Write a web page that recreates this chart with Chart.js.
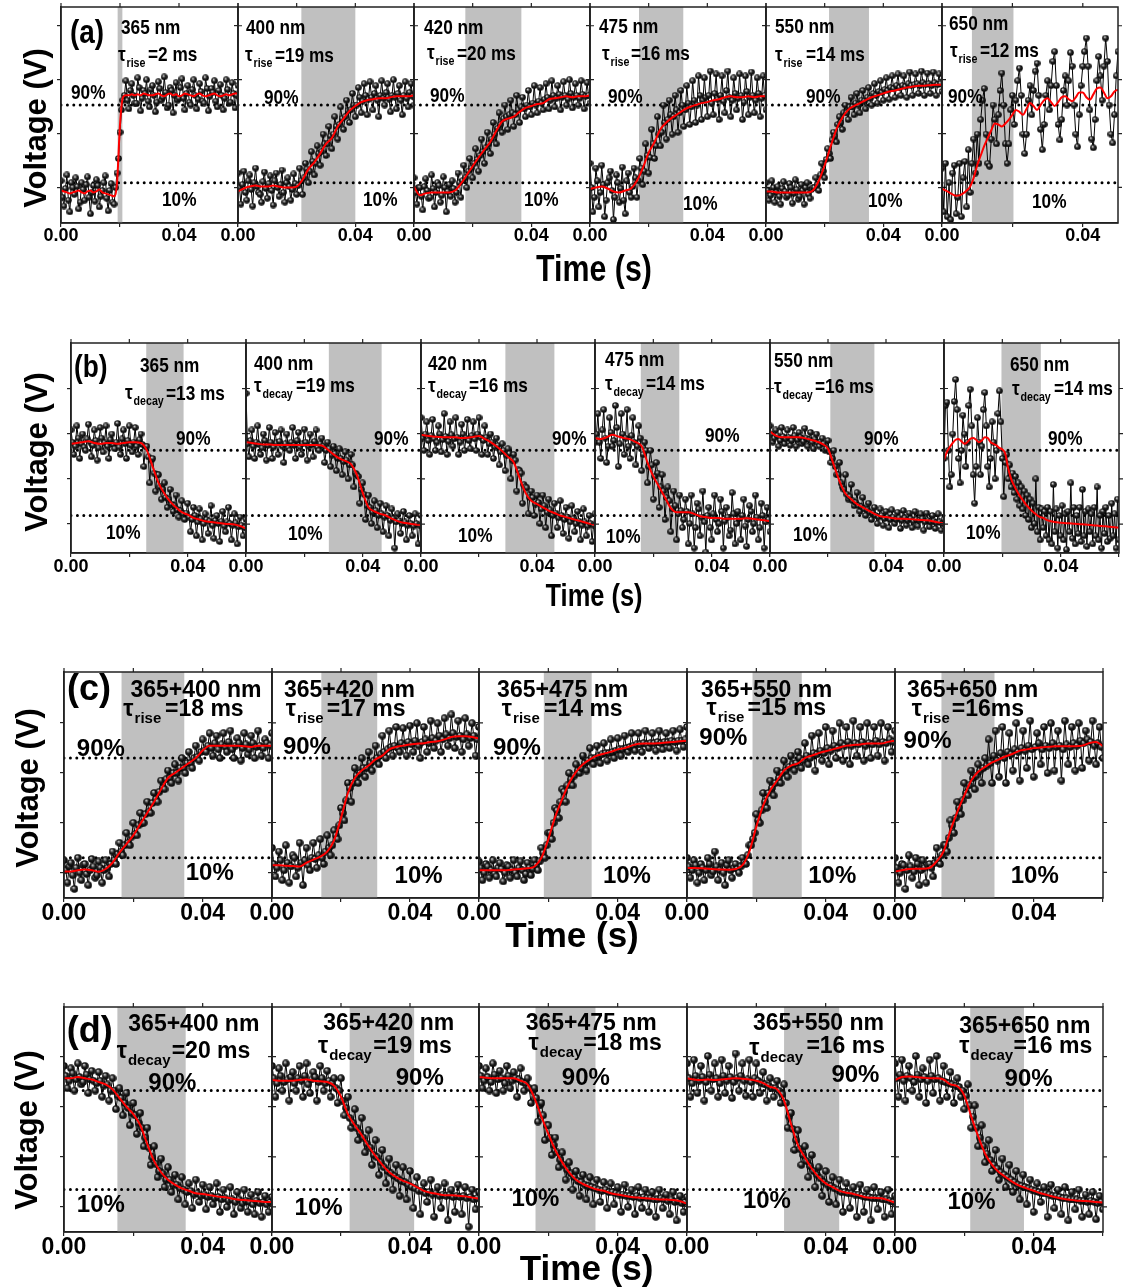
<!DOCTYPE html>
<html><head><meta charset="utf-8">
<script src="https://cdn.jsdelivr.net/npm/chart.js@4.4.1/dist/chart.umd.min.js"></script>
<style>
html,body{margin:0;padding:0;background:#fff;}
#root{position:relative;width:1124px;height:1288px;overflow:hidden;background:#fff;}
canvas{position:absolute;}
.t{position:absolute;white-space:nowrap;color:#000;font-weight:bold;line-height:1;}
</style></head><body><div id="root"></div>
<script>
// ---------------- time bases ----------------
const tFine=[0,.001,.002,.003,.004,.005,.006,.007,.008,.009,.01,.011,.012,.013,.014,.015,.016,.017,.018,.019,.02,.021,.022,.023,.024,.025,.026,.027,.028,.029,.03,.031,.032,.033,.034,.035,.036,.037,.038,.039,.04,.041,.042,.043,.044,.045,.046,.047,.048,.049,.05,.051,.052,.053,.054,.055,.056,.057,.058,.059,.06];
const tMid=[.0005,.0015,.0025,.0035,.0045,.0055,.0065,.0075,.0085,.0095,.0105,.0115,.0125,.0135,.0145,.0155,.0165,.0175,.0185,.0195,.0205,.0215,.0225,.0235,.0245,.0255,.0265,.0275,.0285,.0295,.0305,.0315,.0325,.0335,.0345,.0355,.0365,.0375,.0385,.0395,.0405,.0415,.0425,.0435,.0445,.0455,.0465,.0475,.0485,.0495,.0505,.0515,.0525,.0535,.0545,.0555,.0565,.0575,.0585,.0595];
const tRed=[0,.002,.004,.006,.008,.01,.012,.014,.016,.018,.02,.022,.024,.026,.028,.03,.032,.034,.036,.038,.04,.042,.044,.046,.048,.05,.052,.054,.056,.058,.06];
const tHalf=[0,.0005,.001,.0015,.002,.0025,.003,.0035,.004,.0045,.005,.0055,.006,.0065,.007,.0075,.008,.0085,.009,.0095,.01,.0105,.011,.0115,.012,.0125,.013,.0135,.014,.0145,.015,.0155,.016,.0165,.017,.0175,.018,.0185,.019,.0195,.02,.0205,.021,.0215,.022,.0225,.023,.0235,.024,.0245,.025,.0255,.026,.0265,.027,.0275,.028,.0285,.029,.0295,.03,.0305,.031,.0315,.032,.0325,.033,.0335,.034,.0345,.035,.0355,.036,.0365,.037,.0375,.038,.0385,.039,.0395,.04,.0405,.041,.0415,.042,.0425,.043,.0435,.044,.0445,.045,.0455,.046,.0465,.047,.0475,.048,.0485,.049,.0495,.05,.0505,.051,.0515,.052,.0525,.053,.0535,.054,.0545,.055,.0555,.056,.0565,.057,.0575,.058,.0585,.059,.0595,.06];
const xMaxA=[0.06,0.06,0.06,0.06,0.06,0.05];
const xTickLabels=['0.00','0.04'];

// ---------------- row (a): rise, single wavelength ----------------
const a1Black=[0.12,-0.14,0.18,-0.2,0.05,0.15,-0.17,0.1,-0.08,0.16,-0.22,0.07,0.13,-0.15,0.02,0.17,-0.19,0.09,-0.12,0.2,0.62,0.95,1.15,0.86,1.12,0.92,1.18,0.84,1.05,1.16,0.88,1.1,0.83,1.14,0.95,1.19,0.87,1.08,0.82,1.13,0.97,1.17,0.85,1.1,0.9,1.16,0.86,1.12,0.94,1.18,0.84,1.07,1.15,0.88,1.11,0.85,1.16,0.92,1.13,0.87,1.1];
const a1Mid=[-0.05,0.04,-0.08,0.1,-0.02,0.06,-0.1,0.03,0.08,-0.05,0.0,-0.09,0.07,-0.04,0.1,-0.06,0.02,-0.1,0.05,0.35,0.85,1.0,0.95,1.05,1.0,0.92,1.08,0.97,1.02,0.94,1.06,1.0,0.93,1.07,0.98,1.03,0.9,1.05,1.0,0.95,1.08,0.97,1.02,0.93,1.06,1.0,0.96,1.04,0.92,1.07,0.99,1.03,0.94,1.05,1.0,0.97,1.06,0.93,1.02,1.0];
const a1Red=[0.02,0.01,0.0,-0.01,0.0,0.01,0.02,0.0,-0.01,0.01,0.02,0.0,0.01,0.03,0.0,-0.01,-0.02,-0.03,-0.04,0.1,0.7,0.98,1.0,1.0,1.01,1.0,1.01,1.0,1.02,1.01,1.0,1.0,1.01,1.02,1.0,0.99,1.01,1.02,1.0,1.01,0.99,1.0,1.02,1.01,1.0,0.99,1.01,1.02,1.0,0.99,1.0,1.01,1.02,1.0,0.99,1.0,1.01,1.0,1.01,1.02,1.02];
const a2Black=[0.2,-0.12,0.22,-0.08,0.18,-0.14,0.25,0.0,-0.1,0.21,-0.06,0.17,-0.13,0.2,-0.04,0.23,-0.1,0.15,-0.08,0.19,-0.02,0.25,-0.02,0.3,0.1,0.42,0.18,0.48,0.28,0.6,0.38,0.68,0.45,0.78,0.55,0.88,0.65,0.95,0.72,1.02,0.78,1.08,0.82,1.12,0.8,1.14,0.85,1.1,0.78,1.15,0.9,1.12,0.83,1.16,0.86,1.1,0.8,1.14,0.88,1.12,0.9];
const a2Mid=[0.05,0.08,0.0,0.12,0.03,0.1,0.06,-0.02,0.11,0.04,0.09,0.02,0.12,0.05,0.08,0.0,0.1,0.06,0.03,0.09,0.07,0.12,0.15,0.24,0.22,0.32,0.3,0.4,0.42,0.5,0.5,0.58,0.6,0.68,0.7,0.76,0.78,0.84,0.85,0.9,0.9,0.98,0.94,1.0,0.96,0.98,1.02,0.95,1.0,0.97,1.03,0.96,1.0,0.98,1.02,0.95,1.0,0.97,1.03,0.99];
const a2Red=[0.01,0.04,0.06,0.07,0.06,0.06,0.07,0.06,0.05,0.05,0.06,0.13,0.24,0.31,0.40,0.50,0.56,0.68,0.76,0.84,0.89,0.93,0.95,0.96,0.97,0.97,0.98,0.99,0.99,0.99,1.0];
const a3Black=[0.15,-0.12,0.05,-0.18,0.14,-0.06,0.18,-0.15,0.1,-0.1,0.16,-0.2,0.08,0.12,-0.1,0.2,-0.05,0.28,0.05,0.35,0.15,0.45,0.22,0.55,0.3,0.62,0.4,0.72,0.5,0.82,0.62,0.9,0.65,0.95,0.68,1.0,0.72,0.98,0.78,1.05,0.8,1.1,0.82,1.08,0.85,1.12,0.86,1.15,0.88,1.1,0.85,1.14,0.9,1.16,0.87,1.12,0.9,1.15,0.86,1.13,0.92];
const a3Mid=[0.0,0.05,-0.04,0.06,0.02,-0.05,0.04,0.0,0.07,-0.03,0.05,0.01,-0.04,0.04,0.0,0.1,0.12,0.15,0.22,0.25,0.3,0.34,0.38,0.42,0.46,0.5,0.55,0.6,0.66,0.7,0.76,0.78,0.8,0.82,0.8,0.85,0.88,0.86,0.9,0.88,0.92,0.9,0.94,0.92,0.96,0.98,0.95,1.0,0.97,1.01,0.98,1.0,0.96,1.02,0.98,1.0,0.97,1.01,0.99,1.0];
const a3Red=[0.06,-0.03,-0.01,0.0,0.0,0.0,0.0,0.02,0.09,0.18,0.27,0.36,0.44,0.52,0.63,0.73,0.76,0.78,0.83,0.87,0.89,0.91,0.92,0.96,0.97,0.98,0.99,0.98,0.99,0.99,1.0];
const a4Black=[0.3,-0.2,0.25,-0.15,0.28,-0.25,0.1,0.22,-0.28,0.18,-0.1,0.26,-0.22,0.2,-0.05,0.25,-0.05,0.35,0.08,0.5,0.2,0.65,0.35,0.78,0.48,0.9,0.55,0.95,0.6,1.0,0.62,1.05,0.68,1.1,0.7,1.15,0.72,1.2,0.75,1.18,0.78,1.25,0.8,1.22,0.75,1.2,0.82,1.25,0.78,1.18,0.85,1.22,0.75,1.2,0.8,1.24,0.82,1.18,0.78,1.2,0.85];
const a4Mid=[0.05,-0.05,0.12,0.0,0.08,-0.08,0.15,0.02,-0.05,0.1,0.04,-0.08,0.12,0.0,0.06,0.15,0.12,0.25,0.22,0.38,0.36,0.5,0.48,0.6,0.62,0.72,0.75,0.8,0.78,0.85,0.82,0.9,0.85,0.92,0.88,0.95,0.9,1.0,0.95,0.98,1.0,0.92,1.02,0.96,1.0,0.94,1.05,0.98,0.95,1.02,0.97,1.0,0.93,1.04,0.98,1.0,0.95,1.02,0.97,1.0];
const a4Red=[0.035,0.05,0.06,0.04,0.01,0.0,0.02,0.04,0.12,0.25,0.41,0.52,0.65,0.72,0.77,0.81,0.85,0.88,0.9,0.92,0.93,0.95,0.96,0.98,0.99,0.98,0.98,0.99,0.98,0.99,0.99];
const a5Black=[0.1,-0.08,0.12,-0.1,0.06,-0.12,0.11,-0.05,0.09,-0.11,0.13,-0.07,0.08,-0.12,0.1,-0.06,0.05,0.15,0.02,0.3,0.15,0.45,0.35,0.62,0.52,0.78,0.65,0.9,0.75,0.98,0.8,1.02,0.82,1.05,0.86,1.08,0.9,1.12,0.92,1.15,0.95,1.18,0.96,1.2,0.98,1.22,1.0,1.2,0.98,1.24,1.0,1.22,1.02,1.25,1.0,1.23,1.02,1.24,1.0,1.22,1.04];
const a5Mid=[0.02,-0.03,0.05,0.0,-0.04,0.04,0.01,-0.03,0.05,-0.01,0.03,-0.04,0.02,0.05,-0.02,0.03,0.05,0.08,0.18,0.22,0.34,0.4,0.54,0.58,0.7,0.72,0.82,0.82,0.88,0.88,0.92,0.9,0.95,0.94,0.98,0.97,1.02,1.0,1.04,1.03,1.06,1.05,1.08,1.07,1.1,1.08,1.1,1.09,1.12,1.1,1.11,1.12,1.1,1.13,1.11,1.12,1.1,1.13,1.11,1.12];
const a5Red=[0.01,0.01,0.0,0.0,0.0,0.0,0.0,0.0,0.02,0.12,0.28,0.47,0.65,0.77,0.85,0.89,0.92,0.95,0.98,1.0,1.02,1.04,1.05,1.065,1.08,1.09,1.1,1.1,1.105,1.11,1.11];
const a6Black=[0.25,-0.2,0.3,-0.25,0.1,-0.28,0.2,0.28,-0.22,-0.05,0.3,-0.25,0.15,0.32,-0.15,0.44,0.0,0.3,0.55,0.2,0.6,0.3,0.75,0.95,1.07,0.6,0.3,0.27,0.55,0.9,0.75,0.5,0.8,1.05,1.23,0.9,0.5,0.3,0.5,0.85,1.0,0.7,0.95,1.15,1.28,1.0,0.6,0.4,0.6,0.95,1.1,0.8,1.05,1.25,1.33,1.0,0.65,0.44,0.7,1.0,1.15,0.85,1.1,1.35,1.45,1.1,0.7,0.54,0.75,1.05,1.2,0.9,1.15,1.44,1.3,0.9,0.6,0.47,0.8,1.1,1.3,1.45,1.59,1.3,0.85,0.55,0.46,0.75,1.15,1.4,1.2,0.95,1.3,1.59,1.35,0.9,0.6,0.51,0.8,1.2,1.45];
const a6Red=[0.04,0.02,0.0,-0.02,-0.034,-0.03,-0.01,0.02,0.06,0.15,0.28,0.38,0.48,0.56,0.64,0.71,0.70,0.68,0.71,0.75,0.80,0.85,0.83,0.80,0.86,0.92,0.89,0.85,0.90,0.95,0.97,0.93,0.89,0.93,0.98,0.99,0.96,0.94,0.98,1.03,1.03,0.98,0.955,1.01,1.07,1.08,1.03,0.97,0.99,1.04,1.06];
const shadeA=[[0.0192,0.0208],[0.0216,0.040],[0.0175,0.0366],[0.0167,0.0318],[0.0215,0.0351],[0.0085,0.0203]];
const wlA=['365 nm','400 nm','420 nm','475 nm','550 nm','650 nm'];
const eqA=['=2 ms','=19 ms','=20 ms','=16 ms','=14 ms','=12 ms'];

// ---------------- row (b): decay, single wavelength ----------------
const b1Black=[1.15,0.85,1.2,0.8,1.1,0.9,1.22,0.82,1.15,0.78,1.18,0.88,1.2,0.8,1.1,0.92,1.23,0.85,1.15,0.8,1.2,0.88,1.18,0.85,1.1,0.7,0.95,0.5,0.8,0.4,0.6,0.3,0.5,0.2,0.42,0.15,0.35,0.08,0.28,0.05,0.25,-0.1,0.2,-0.15,0.18,-0.2,0.12,-0.12,0.22,-0.18,0.1,-0.22,0.15,-0.1,0.2,-0.2,0.12,-0.25,0.08,-0.15,0.05];
const b1Mid=[1.0,0.95,1.05,0.98,0.94,1.04,1.0,0.96,1.02,0.93,1.05,0.99,0.95,1.03,0.97,1.0,0.94,1.04,0.98,1.02,0.96,1.0,0.95,1.03,0.97,0.95,0.82,0.78,0.62,0.6,0.45,0.42,0.32,0.3,0.24,0.22,0.17,0.16,0.12,0.13,0.08,0.05,0.1,0.02,0.06,0.0,0.05,0.03,-0.02,0.04,0.0,0.03,-0.03,0.02,0.0,-0.02,0.01,-0.04,-0.02,-0.05];
const b1Red=[0.98,0.99,1.0,1.01,0.99,0.98,0.99,0.99,0.98,0.99,1.0,1.0,0.99,0.9,0.7,0.5,0.37,0.27,0.2,0.14,0.11,0.07,0.05,0.03,0.02,0.01,0.0,-0.005,-0.01,-0.03,-0.06];
const b2Black=[1.6,0.82,1.15,0.8,1.2,0.85,1.1,0.78,1.18,0.8,1.12,0.85,1.15,0.75,1.1,0.9,1.18,0.8,1.12,0.85,1.16,0.78,1.1,0.82,1.15,0.9,1.05,0.75,1.0,0.7,0.95,0.65,0.92,0.6,0.88,0.55,0.85,0.45,0.6,0.25,0.5,0.05,0.35,0.0,0.28,-0.05,0.25,-0.1,0.22,-0.15,0.18,-0.3,0.12,-0.12,0.15,-0.2,0.1,-0.15,0.12,-0.25,0.1];
const b2Mid=[0.98,1.02,0.95,1.0,0.97,0.93,1.02,0.96,1.0,0.94,0.99,1.01,0.95,0.98,0.93,1.0,0.96,1.02,0.94,0.98,1.0,0.95,0.97,1.01,0.94,0.98,0.95,0.9,0.92,0.84,0.86,0.8,0.8,0.76,0.78,0.72,0.72,0.62,0.58,0.42,0.36,0.22,0.2,0.14,0.16,0.1,0.12,0.08,0.1,0.04,0.06,0.02,0.04,0.0,0.02,-0.02,0.0,-0.03,0.0,-0.02];
const b2Red=[1.0,0.99,0.98,0.97,0.97,0.965,0.965,0.965,0.965,0.965,0.965,0.965,0.965,0.96,0.91,0.85,0.8,0.77,0.73,0.6,0.38,0.2,0.15,0.12,0.1,0.06,0.03,0.01,0.0,-0.01,-0.015];
const b3Black=[1.3,0.9,1.25,0.85,1.28,0.9,1.2,0.88,1.35,0.85,1.25,0.95,1.3,0.85,1.22,0.9,1.28,0.92,1.25,0.9,1.3,0.85,1.2,0.85,1.1,0.8,1.05,0.72,0.98,0.65,0.92,0.55,0.85,0.4,0.65,0.25,0.45,0.12,0.4,0.1,0.35,0.0,0.35,-0.05,0.3,-0.15,0.25,-0.05,0.28,-0.12,0.2,-0.18,0.22,-0.1,0.15,-0.2,0.18,-0.15,0.1,-0.22,0.12];
const b3Mid=[1.05,1.1,1.02,1.08,1.04,1.0,1.1,1.03,1.07,1.01,1.09,1.04,1.06,1.0,1.1,1.05,1.02,1.08,1.04,1.1,1.06,1.02,1.06,0.98,1.0,0.94,0.96,0.88,0.9,0.84,0.86,0.78,0.78,0.66,0.62,0.48,0.44,0.32,0.32,0.24,0.26,0.18,0.22,0.14,0.17,0.1,0.13,0.07,0.1,0.05,0.08,0.02,0.06,0.0,0.03,-0.02,0.02,-0.03,0.0,-0.02];
const b3Red=[1.09,1.08,1.07,1.065,1.06,1.06,1.06,1.05,1.055,1.065,1.075,1.04,1.0,0.95,0.89,0.82,0.75,0.56,0.38,0.28,0.24,0.2,0.16,0.13,0.1,0.08,0.06,0.04,0.02,0.0,-0.015];
const b4Black=[1.0,1.35,0.8,1.4,0.75,1.3,0.95,1.45,0.7,1.35,0.85,1.4,0.8,1.3,0.72,1.2,0.65,1.0,0.5,0.9,0.3,0.75,0.2,0.6,0.05,0.45,-0.1,0.4,-0.2,0.35,-0.05,0.3,-0.25,0.35,-0.3,0.25,-0.15,0.4,-0.35,0.2,-0.2,0.35,-0.1,0.3,-0.3,0.2,-0.15,0.38,-0.25,0.15,-0.2,0.3,-0.28,0.22,-0.1,0.35,-0.2,0.25,-0.3,0.2,-0.1];
const b4Mid=[1.1,1.0,1.15,1.05,0.95,1.12,1.02,1.18,0.98,1.1,1.05,0.95,1.08,1.0,0.95,1.05,0.85,0.9,0.7,0.72,0.58,0.62,0.45,0.4,0.32,0.28,0.18,0.22,0.12,0.16,0.05,0.15,0.0,0.12,-0.05,0.18,0.08,0.02,0.1,-0.05,0.12,0.05,0.0,0.15,0.03,0.08,-0.08,0.12,0.0,0.06,0.1,-0.03,0.05,0.15,0.0,0.08,-0.05,0.1,0.02,0.05];
const b4Red=[1.05,1.04,1.06,1.09,1.07,1.05,1.035,1.0,0.95,0.75,0.58,0.45,0.32,0.19,0.14,0.14,0.14,0.12,0.09,0.08,0.07,0.07,0.06,0.06,0.06,0.06,0.065,0.06,0.05,0.04,0.03];
const b5Black=[1.2,1.0,1.15,0.95,1.18,0.98,1.15,0.96,1.18,0.95,1.12,0.98,1.17,0.95,1.12,0.92,1.1,0.95,1.05,0.9,1.02,0.75,0.9,0.6,0.75,0.45,0.6,0.3,0.48,0.22,0.38,0.15,0.32,0.1,0.25,0.05,0.2,0.0,0.18,-0.02,0.15,-0.05,0.17,0.0,0.14,-0.06,0.16,-0.02,0.13,-0.05,0.15,-0.03,0.12,-0.08,0.13,-0.04,0.1,-0.06,0.12,-0.08,0.05];
const b5Mid=[1.1,1.05,1.08,1.02,1.07,1.04,1.06,1.02,1.08,1.03,1.06,1.01,1.05,1.03,1.0,1.04,0.99,1.01,0.98,0.92,0.88,0.8,0.7,0.6,0.5,0.42,0.36,0.33,0.28,0.26,0.22,0.21,0.18,0.17,0.14,0.13,0.1,0.08,0.1,0.06,0.08,0.05,0.08,0.05,0.07,0.04,0.07,0.04,0.06,0.03,0.05,0.04,0.06,0.02,0.04,0.02,0.03,0.01,0.02,0.0];
const b5Red=[1.13,1.08,1.06,1.06,1.06,1.06,1.05,1.03,1.01,0.98,0.92,0.72,0.52,0.37,0.3,0.24,0.2,0.16,0.12,0.09,0.08,0.07,0.06,0.06,0.055,0.05,0.045,0.04,0.03,0.015,0.0];
const b6Black=[0.8,1.45,1.49,0.9,0.45,0.6,1.1,1.5,1.77,1.4,0.8,0.5,0.9,1.33,1.1,0.7,1.0,1.45,1.65,1.2,0.6,0.25,0.7,1.3,1.0,0.6,0.95,1.4,1.61,1.2,0.7,0.45,0.8,1.25,1.0,0.55,0.9,1.35,1.63,1.25,0.8,0.33,0.75,0.85,0.55,0.72,0.45,0.62,0.38,0.58,0.3,0.5,0.22,0.45,0.18,0.4,0.1,0.35,0.05,0.3,-0.05,0.25,0.0,0.55,-0.1,0.2,-0.2,0.18,-0.05,0.15,-0.15,0.2,-0.2,0.15,-0.25,0.48,-0.1,0.18,-0.3,0.1,-0.15,0.22,-0.2,0.12,-0.32,0.15,-0.1,0.5,-0.18,0.2,-0.25,0.1,-0.12,0.2,-0.22,0.42,-0.15,0.15,-0.28,0.18,-0.1,0.12,-0.25,0.2,-0.15,0.45,-0.2,0.1,-0.3,0.15,-0.12,0.2,-0.22,0.1,-0.18,0.25,-0.15,0.12,-0.3,0.3,-0.2];
const b6Red=[0.78,0.88,0.94,0.99,1.03,1.04,1.01,0.98,1.0,1.04,1.05,1.03,1.0,1.02,1.06,1.05,1.0,0.98,0.96,0.93,0.91,0.86,0.68,0.55,0.47,0.40,0.34,0.29,0.24,0.2,0.16,0.13,0.10,0.08,0.07,0.05,0.035,0.027,0.02,0.015,0.01,0.007,0.005,0.003,0.0,-0.003,-0.005,-0.008,-0.01,-0.013,-0.016,-0.02,-0.023,-0.026,-0.03,-0.033,-0.036,-0.04,-0.043,-0.047,-0.05];
const shadeB=[[0.0258,0.0386],[0.0284,0.0465],[0.0291,0.046],[0.0157,0.0289],[0.0208,0.036],[0.0197,0.0332]];
const wlB=['365 nm','400 nm','420 nm','475 nm','550 nm','650 nm'];
const eqB=['=13 ms','=19 ms','=16 ms','=14 ms','=16 ms','=14 ms'];

// ---------------- row (c): rise, dual wavelength ----------------
const c1Black=[0.08,-0.1,0.06,-0.15,0.1,-0.08,0.05,-0.12,0.09,-0.06,0.07,-0.1,0.08,-0.05,0.15,0.05,0.22,0.12,0.3,0.2,0.38,0.28,0.46,0.38,0.55,0.46,0.62,0.55,0.72,0.65,0.8,0.7,0.85,0.72,0.9,0.78,0.95,0.82,1.0,0.88,1.05,0.95,1.1,0.92,1.08,0.9,1.1,0.95,1.12,0.9,1.06,0.88,1.1,0.93,1.08,0.9,1.12,0.92,1.05,0.9,1.1];
const c1Mid=[0.0,0.03,-0.04,0.02,-0.02,0.04,-0.03,0.0,0.03,-0.04,0.02,0.0,0.02,0.05,0.08,0.13,0.15,0.2,0.22,0.27,0.29,0.36,0.38,0.45,0.47,0.54,0.57,0.63,0.66,0.73,0.74,0.78,0.78,0.82,0.82,0.86,0.86,0.9,0.91,0.95,0.96,1.0,0.98,1.02,0.97,1.01,0.99,1.03,0.97,1.0,1.02,0.98,1.01,0.97,1.02,0.99,1.0,0.98,1.02,1.0];
const c1Red=[-0.01,-0.01,0.0,0.005,0.0,-0.012,0.01,0.06,0.14,0.21,0.28,0.37,0.46,0.55,0.65,0.74,0.78,0.82,0.86,0.9,0.96,1.0,1.0,1.0,1.0,1.0,0.995,0.99,1.0,1.0,1.0];
const c2Black=[0.18,-0.05,0.15,-0.08,0.2,-0.1,0.12,-0.05,0.22,-0.12,0.18,0.0,0.22,0.02,0.25,0.05,0.28,0.12,0.32,0.25,0.5,0.4,0.7,0.55,0.82,0.7,0.9,0.75,0.95,0.8,1.0,0.85,1.08,0.9,1.12,0.92,1.15,0.95,1.14,0.92,1.16,0.95,1.18,0.9,1.15,0.95,1.2,0.98,1.18,0.95,1.22,1.0,1.25,0.98,1.2,0.95,1.22,1.0,1.18,0.92,1.15];
const c2Mid=[0.05,0.02,0.08,0.0,0.06,0.03,0.1,0.02,0.06,0.08,0.04,0.1,0.09,0.12,0.1,0.15,0.18,0.2,0.28,0.36,0.46,0.56,0.66,0.7,0.76,0.78,0.82,0.82,0.86,0.88,0.9,0.93,0.95,0.97,0.99,1.0,0.98,1.02,1.0,1.03,1.01,1.04,1.0,1.03,1.05,1.02,1.06,1.04,1.08,1.05,1.09,1.06,1.1,1.07,1.08,1.05,1.09,1.06,1.08,1.05];
const c2Red=[0.04,0.04,0.036,0.033,0.03,0.06,0.085,0.11,0.15,0.24,0.42,0.62,0.74,0.8,0.84,0.89,0.92,0.97,0.99,1.0,1.01,1.015,1.02,1.03,1.035,1.05,1.07,1.075,1.075,1.07,1.057];
const c3Black=[0.07,-0.08,0.05,-0.06,0.08,-0.05,0.06,-0.09,0.04,-0.06,0.08,-0.05,0.07,-0.08,0.06,-0.04,0.08,0.0,0.18,0.1,0.3,0.25,0.5,0.42,0.65,0.55,0.78,0.68,0.85,0.78,0.92,0.8,0.98,0.85,1.0,0.86,1.02,0.88,1.05,0.9,1.06,0.92,1.08,0.95,1.1,0.96,1.1,0.95,1.12,0.98,1.1,0.96,1.12,0.97,1.1,0.98,1.12,0.96,1.13,0.99,1.15];
const c3Mid=[0.02,-0.02,0.03,0.0,-0.03,0.02,0.01,-0.02,0.03,0.0,-0.02,0.02,0.0,-0.03,0.02,0.01,0.04,0.07,0.14,0.2,0.3,0.38,0.48,0.55,0.63,0.68,0.73,0.76,0.8,0.82,0.86,0.88,0.9,0.9,0.92,0.93,0.94,0.94,0.95,0.96,0.97,0.97,0.98,0.99,1.0,1.01,1.01,1.02,1.01,1.02,1.02,1.03,1.02,1.03,1.03,1.04,1.03,1.04,1.04,1.05];
const c3Red=[0.0,0.0,0.0,0.0,0.0,0.005,0.01,0.015,0.03,0.1,0.25,0.43,0.57,0.7,0.79,0.85,0.89,0.92,0.935,0.95,0.97,0.98,1.0,1.015,1.017,1.017,1.02,1.025,1.03,1.035,1.04];
const c4Black=[0.1,-0.06,0.08,-0.1,0.05,-0.08,0.1,-0.04,0.15,-0.08,0.06,-0.12,0.08,-0.06,0.05,-0.02,0.1,0.05,0.2,0.25,0.45,0.38,0.62,0.5,0.72,0.6,0.8,0.7,0.88,0.75,0.92,0.8,0.95,0.82,1.02,0.85,1.08,0.8,1.1,0.88,1.15,0.85,1.12,0.9,1.18,0.88,1.15,0.85,1.2,0.92,1.15,0.88,1.18,0.9,1.15,0.92,1.18,0.88,1.15,0.95,1.12];
const c4Mid=[0.03,0.0,0.04,-0.02,0.02,0.0,0.05,-0.01,0.03,0.0,-0.02,0.04,0.0,0.02,0.01,0.03,0.06,0.12,0.2,0.3,0.4,0.48,0.55,0.62,0.66,0.7,0.74,0.78,0.8,0.83,0.85,0.86,0.9,0.88,0.92,0.9,0.94,0.93,0.96,0.94,0.98,0.96,1.0,0.98,1.02,1.0,1.03,1.0,1.02,1.01,1.03,1.0,1.02,1.01,1.04,1.01,1.03,1.02,1.05,1.03];
const c4Red=[0.017,0.017,0.015,0.012,0.008,0.005,0.004,0.01,0.04,0.15,0.35,0.52,0.64,0.72,0.8,0.84,0.857,0.9,0.92,0.94,0.955,0.97,0.985,1.0,1.005,1.01,1.017,1.017,1.017,1.03,1.04];
const c5Black=[0.1,-0.1,0.05,-0.15,0.12,-0.06,0.1,-0.12,0.08,-0.1,0.05,-0.05,0.18,0.05,0.2,0.15,0.4,0.3,0.55,0.45,0.7,0.6,0.8,0.65,0.85,0.7,0.9,1.05,0.7,1.12,0.75,1.15,0.7,1.1,0.8,1.18,0.72,1.12,0.82,1.2,0.75,1.1,0.85,1.15,0.78,1.18,0.8,1.12,0.72,1.2,0.85,1.15,0.8,1.18,0.82,1.12,0.88,1.2,0.85,1.15,0.9];
const c5Mid=[0.02,-0.02,0.04,0.0,0.03,-0.01,0.05,0.0,0.02,0.04,0.02,0.06,0.08,0.12,0.2,0.26,0.36,0.42,0.5,0.56,0.62,0.68,0.74,0.76,0.8,0.82,0.84,0.86,0.92,0.88,0.94,0.9,0.95,0.93,0.97,0.95,0.98,0.96,1.0,0.97,0.99,1.02,0.97,1.0,0.98,1.02,0.99,1.0,0.97,1.01,0.99,1.02,1.0,1.04,1.02,1.05,1.03,1.0,1.02,0.99];
const c5Red=[-0.01,0.0,0.01,0.012,0.012,0.02,0.07,0.15,0.32,0.47,0.6,0.72,0.79,0.83,0.865,0.89,0.915,0.935,0.96,0.97,0.98,0.985,0.99,0.995,0.996,0.996,0.996,1.0,1.02,1.03,0.996];
const shadeC=[[0.0166,0.0347],[0.0143,0.0305],[0.0187,0.0325],[0.0189,0.0331],[0.0134,0.0287]];
const wlC=['365+400 nm','365+420 nm','365+475 nm','365+550 nm','365+650 nm'];
const eqC=['=18 ms','=17 ms','=14 ms','=15 ms','=16ms'];

// ---------------- row (d): decay, dual wavelength ----------------
const d1Black=[1.1,0.92,1.08,0.9,1.12,0.95,1.1,0.88,1.06,0.9,1.05,0.85,1.02,0.82,1.0,0.75,0.92,0.7,0.88,0.62,0.8,0.55,0.72,0.45,0.6,0.3,0.45,0.2,0.35,0.12,0.28,0.08,0.22,0.02,0.2,-0.02,0.15,-0.05,0.18,0.0,0.14,-0.06,0.12,-0.02,0.15,-0.08,0.1,-0.04,0.12,-0.1,0.08,-0.05,0.1,-0.08,0.06,-0.1,0.08,-0.12,0.05,-0.08,0.04];
const d1Mid=[1.02,0.98,1.04,0.99,1.01,0.97,1.03,0.99,0.98,0.96,0.98,0.94,0.95,0.9,0.9,0.86,0.84,0.8,0.76,0.72,0.7,0.64,0.6,0.52,0.44,0.36,0.31,0.25,0.23,0.18,0.18,0.14,0.14,0.11,0.1,0.08,0.09,0.06,0.07,0.05,0.06,0.04,0.05,0.03,0.04,0.02,0.03,0.01,0.02,0.0,0.02,-0.01,0.01,0.0,-0.02,0.01,-0.01,0.0,-0.02,0.0];
const d1Red=[1.0,1.0,1.01,1.0,0.99,0.97,0.95,0.91,0.84,0.77,0.71,0.62,0.47,0.33,0.24,0.18,0.14,0.11,0.09,0.07,0.065,0.055,0.045,0.04,0.03,0.02,0.015,0.01,0.005,0.0,0.0];
const d2Black=[1.1,0.85,1.08,0.9,1.12,0.82,1.05,0.9,1.1,0.85,1.12,0.88,1.05,0.82,1.1,0.9,1.06,0.85,1.0,0.8,1.0,0.7,0.85,0.6,0.75,0.5,0.68,0.4,0.58,0.3,0.5,0.22,0.42,0.15,0.35,0.1,0.3,0.05,0.28,0.02,0.25,-0.05,0.2,-0.1,0.15,0.0,0.18,-0.12,0.12,-0.05,0.15,-0.15,0.1,-0.08,0.14,-0.1,0.12,-0.2,0.1,-0.06,0.08];
const d2Mid=[1.0,0.96,1.02,0.97,0.99,1.01,0.96,1.0,0.98,1.02,0.95,0.99,1.01,0.97,1.0,0.96,0.98,0.96,0.92,0.9,0.82,0.76,0.68,0.64,0.6,0.56,0.52,0.47,0.44,0.38,0.36,0.32,0.28,0.25,0.23,0.21,0.19,0.17,0.16,0.14,0.12,0.11,0.09,0.09,0.07,0.08,0.06,0.07,0.05,0.06,0.05,0.06,0.04,0.05,0.04,0.05,0.03,0.04,0.02,0.03];
const d2Red=[0.986,0.98,0.98,0.98,0.985,0.99,0.98,0.975,0.97,0.94,0.85,0.71,0.62,0.54,0.45,0.37,0.3,0.24,0.2,0.17,0.15,0.12,0.09,0.075,0.065,0.055,0.055,0.05,0.045,0.035,0.027];
const d3Black=[1.1,0.92,1.08,0.9,1.12,0.88,1.06,0.9,1.1,0.92,1.05,0.85,1.08,0.9,1.0,0.8,0.92,0.65,0.8,0.5,0.62,0.38,0.52,0.28,0.4,0.18,0.32,0.1,0.25,0.05,0.22,0.02,0.2,-0.02,0.18,0.0,0.16,-0.05,0.15,-0.02,0.12,-0.08,0.14,-0.04,0.1,-0.1,0.12,-0.05,0.1,-0.08,0.08,-0.12,0.1,-0.05,0.06,-0.1,0.08,-0.15,0.05,-0.08,0.04];
const d3Mid=[1.02,0.98,1.01,0.97,1.03,0.99,1.0,0.96,1.02,0.98,1.0,0.99,0.97,0.96,0.92,0.9,0.84,0.78,0.7,0.62,0.52,0.46,0.4,0.34,0.3,0.26,0.23,0.2,0.17,0.16,0.14,0.13,0.12,0.11,0.1,0.09,0.1,0.08,0.08,0.07,0.06,0.06,0.05,0.05,0.04,0.05,0.03,0.04,0.03,0.03,0.02,0.02,0.03,0.02,0.01,0.02,0.0,0.01,-0.01,0.0];
const d3Red=[1.008,1.005,1.0,1.0,1.0,1.0,0.98,0.95,0.84,0.69,0.55,0.42,0.32,0.24,0.18,0.145,0.12,0.1,0.09,0.07,0.06,0.05,0.04,0.035,0.03,0.025,0.02,0.02,0.015,0.005,-0.014];
const d4Black=[1.12,0.85,1.15,0.88,1.1,0.82,1.18,0.9,1.12,0.85,1.15,0.88,1.1,0.84,1.2,0.9,1.12,0.86,1.15,0.85,1.12,0.88,1.05,0.82,1.0,0.85,0.98,0.8,0.95,0.6,0.72,0.42,0.58,0.3,0.45,0.2,0.38,0.12,0.28,0.05,0.25,0.0,0.2,-0.02,0.18,-0.08,0.15,-0.05,0.12,-0.12,0.14,-0.08,0.1,-0.15,0.12,-0.06,0.08,-0.12,0.1,-0.1,0.05];
const d4Mid=[1.0,0.96,1.02,0.98,1.01,0.97,1.03,0.99,1.0,0.96,1.02,0.98,1.01,0.97,1.0,1.02,0.98,0.99,0.97,1.0,0.98,0.96,0.95,0.94,0.92,0.92,0.9,0.87,0.8,0.69,0.59,0.5,0.43,0.38,0.33,0.29,0.25,0.22,0.19,0.16,0.14,0.13,0.11,0.1,0.08,0.08,0.07,0.07,0.06,0.06,0.05,0.04,0.04,0.03,0.03,0.03,0.02,0.02,0.01,0.0];
const d4Red=[1.0,0.99,0.985,0.99,0.985,0.99,0.995,1.0,0.995,0.99,0.98,0.96,0.93,0.91,0.82,0.63,0.46,0.36,0.27,0.2,0.15,0.12,0.09,0.075,0.065,0.05,0.035,0.033,0.03,0.015,-0.005];
const d5Black=[1.12,0.85,1.15,0.82,1.1,0.9,1.18,0.85,1.08,0.8,1.15,0.88,1.18,0.82,1.1,0.85,1.05,0.8,1.0,0.85,0.75,0.95,0.6,0.78,0.45,0.62,0.32,0.5,0.25,0.42,0.18,0.35,0.12,0.3,0.08,0.25,0.02,0.22,-0.02,0.18,-0.08,0.15,0.0,0.12,-0.12,0.14,-0.05,0.1,-0.1,0.12,-0.15,0.08,-0.06,0.1,-0.12,0.06,-0.1,0.08,-0.14,0.05,-0.06];
const d5Mid=[1.0,1.03,0.98,1.02,1.0,0.97,1.03,0.99,1.01,0.98,1.02,0.99,1.0,0.98,0.97,0.96,0.95,0.94,0.93,0.9,0.86,0.78,0.69,0.6,0.52,0.45,0.39,0.34,0.3,0.27,0.24,0.22,0.2,0.18,0.16,0.14,0.13,0.12,0.11,0.1,0.09,0.08,0.07,0.07,0.06,0.05,0.05,0.04,0.03,0.03,0.02,0.02,0.02,0.01,0.01,0.0,0.01,0.0,-0.01,0.0];
const d5Red=[0.986,1.01,1.015,1.01,1.005,1.0,1.0,0.99,0.95,0.935,0.86,0.69,0.53,0.39,0.3,0.24,0.2,0.16,0.13,0.11,0.09,0.07,0.055,0.04,0.027,0.02,0.012,0.008,0.005,0.0,-0.005];
const shadeD=[[0.0154,0.0351],[0.0225,0.0412],[0.0163,0.0336],[0.028,0.0439],[0.0217,0.0372]];
const wlD=['365+400 nm','365+420 nm','365+475 nm','365+550 nm','365+650 nm'];
const eqD=['=20 ms','=19 ms','=18 ms','=16 ms','=16 ms'];

// y tick positions (unlabelled minor ticks) per row
const yTicksA=[0.052,0.605,1.161,1.717];
const yTicksB=[-0.006,0.549,1.104,1.659];
const yTicksC=[-0.017,0.383,0.783,1.183];
const yTicksD=[-0.04,0.365,0.77,1.175];
const levelLines=[0.1,0.9];

// ---------------- fonts ----------------
const root=document.getElementById('root');
const HAS_NARROW=(()=>{const c=document.createElement('canvas').getContext('2d');
  c.font='bold 40px "Liberation Sans Narrow", monospace';const w1=c.measureText('0.04 Time nm').width;
  c.font='bold 40px monospace';const w2=c.measureText('0.04 Time nm').width;return Math.abs(w1-w2)>0.5;})();
const NARF='"Liberation Sans Narrow","Arial Narrow",sans-serif';
const REGF='"Liberation Sans",Arial,sans-serif';

function ballImg(d){
  const c=document.createElement('canvas');c.width=d;c.height=d;const g=c.getContext('2d');const r=d/2;
  const grd=g.createRadialGradient(r*0.72,r*0.62,0,r,r,r);
  grd.addColorStop(0,'#ffffff');grd.addColorStop(0.2,'#9a9a9a');grd.addColorStop(0.5,'#202020');grd.addColorStop(1,'#000');
  g.fillStyle=grd;g.beginPath();g.arc(r,r,r-0.2,0,Math.PI*2);g.fill();return c;
}
const BALL_AB=ballImg(7),BALL_CD=ballImg(8);

function pts(T,V){const o=[];for(let i=0;i<T.length&&i<V.length;i++)o.push({x:T[i],y:V[i]});return o;}
function merged(T1,V1,T2,V2){const o=pts(T1,V1);if(T2&&V2)o.push(...pts(T2,V2));return o.sort((a,b)=>a.x-b.x);}

function makePanel(row,i,p){
  const padL=36,padR=10,padT=10,padB=36;
  const left=row.left+i*row.w,w=row.w;
  const cl=Math.round(left-padL),ct=Math.round(row.top-padT);
  const cw=Math.round(left+w+padR)-cl,ch=Math.round(row.bottom+padB)-ct;
  const pl=Math.round(left)-cl,pt=Math.round(row.top)-ct;
  const pr=cw-(Math.round(left+w)-cl),pb=ch-(Math.round(row.bottom)-ct);
  const cv=document.createElement('canvas');cv.width=cw;cv.height=ch;cv.style.left=cl+'px';cv.style.top=ct+'px';
  cv.style.width=cw+'px';cv.style.height=ch+'px';root.appendChild(cv);
  const dotted=(y)=>({data:[{x:0,y:y},{x:p.xmax,y:y}],borderColor:'#000',borderWidth:3,borderDash:[0,6.4],borderCapStyle:'round',pointRadius:0,fill:false});
  const tickFam=row.nar?(HAS_NARROW?NARF:REGF):REGF;
  const tickSize=row.nar&&!HAS_NARROW?row.tickSize-3:row.tickSize;
  new Chart(cv,{type:'line',
    data:{datasets:[
      {data:pts(p.rt,p.rv),borderColor:'#ff0000',borderWidth:2,pointRadius:0,cubicInterpolationMode:'monotone',fill:false},
      {data:merged(p.bt,p.bv,p.mt,p.mv),borderColor:'#000',borderWidth:1,pointStyle:row.ball,pointRadius:4,fill:false},
      dotted(levelLines[1]),dotted(levelLines[0])
    ]},
    options:{responsive:false,animation:false,events:[],devicePixelRatio:1,
      layout:{padding:{left:0,right:pr,top:pt,bottom:0}},
      plugins:{legend:{display:false},tooltip:{enabled:false}},
      scales:{
        x:{type:'linear',min:0,max:p.xmax,
          ticks:{stepSize:0.02,includeBounds:false,autoSkip:false,maxRotation:0,minRotation:0,color:'#000',padding:row.tickPad,
            font:{family:tickFam,size:tickSize,weight:'bold',lineHeight:1},
            callback:(v)=>Math.abs(v)<1e-9?xTickLabels[0]:(Math.abs(v-0.04)<1e-9?xTickLabels[1]:'')},
          grid:{drawOnChartArea:false,drawTicks:true,tickLength:4,color:'#222',lineWidth:1.2},
          border:{display:true,color:'#222',width:1.5},
          afterFit:(s)=>{s.height=pb;}},
        y:{type:'linear',min:row.yMin,max:row.yMax,
          afterBuildTicks:(s)=>{s.ticks=row.yTicks.map(v=>({value:v}));},
          ticks:{callback:()=>'',padding:0,font:{size:8}},
          grid:{drawOnChartArea:false,drawTicks:true,tickLength:4,color:'#222',lineWidth:1.2},
          border:{display:true,color:'#222',width:1.5},
          afterFit:(s)=>{s.width=pl;}}
      }},
    plugins:[
      {id:'shade',beforeDatasetsDraw(c){const a=c.chartArea,x=c.scales.x,g=c.ctx;
        const x1=x.getPixelForValue(p.sh[0]),x2=x.getPixelForValue(p.sh[1]);
        g.save();g.fillStyle='#c0c0c0';g.fillRect(x1,a.top,x2-x1,a.bottom-a.top);g.restore();}},
      {id:'frame',afterDraw(c){const a=c.chartArea,g=c.ctx,x=c.scales.x,y=c.scales.y;
        g.save();g.strokeStyle='#222';g.lineWidth=1.5;g.strokeRect(a.left,a.top,a.right-a.left,a.bottom-a.top);
        g.lineWidth=1.2;g.beginPath();
        x.ticks.forEach(t=>{const px=x.getPixelForValue(t.value);g.moveTo(px,a.top);g.lineTo(px,a.top-4);});
        y.ticks.forEach(t=>{const py=y.getPixelForValue(t.value);g.moveTo(a.right,py);g.lineTo(a.right+4,py);});
        g.stroke();g.restore();}}
    ]});
}

// ---------------- text helpers ----------------
function addText(str,x,base,size,narrow,center){
  const d=document.createElement('div');d.className='t';
  d.style.fontFamily=narrow?NARF:REGF;d.style.fontSize=size+'px';
  d.style.left=x+'px';d.style.top=(base-0.8465*size)+'px';
  let tf='';if(center)tf+='translateX(-50%) ';if(narrow&&!HAS_NARROW)tf+='scaleX(0.82)';
  d.style.transformOrigin=center?'center':'left';if(tf)d.style.transform=tf;
  d.textContent=str;root.appendChild(d);return d;
}
function addTau(x,base,size,sub,subSize,subDy,narrow){
  const d=addText('τ',x,base,size,narrow,false);
  const s=document.createElement('span');s.textContent=sub;s.style.fontSize=subSize+'px';
  s.style.position='relative';s.style.top=subDy+'px';s.style.marginLeft='1px';d.appendChild(s);
}
function addVert(str,cx,cy,size){
  const d=document.createElement('div');d.className='t';d.style.fontFamily=REGF;d.style.fontSize=size+'px';
  d.style.left=cx+'px';d.style.top=cy+'px';d.style.transform='translate(-50%,-50%) rotate(-90deg)';
  d.textContent=str;root.appendChild(d);
}

// ---------------- rows ----------------
const rowA={top:7.3,bottom:223.3,left:61.4,w:176.1,yMin:-0.315,yMax:1.91,yTicks:yTicksA,nar:true,tickSize:21,tickPad:0,ball:BALL_AB};
const rowB={top:342.7,bottom:553.3,left:71.4,w:174.6,yMin:-0.361,yMax:2.218,yTicks:yTicksB,nar:true,tickSize:21,tickPad:1,ball:BALL_AB};
const rowC={top:671.7,bottom:898.3,left:63.6,w:207.9,yMin:-0.223,yMax:1.591,yTicks:yTicksC,nar:false,tickSize:23,tickPad:0,ball:BALL_CD};
const rowD={top:1007.3,bottom:1231.7,left:63.6,w:207.9,yMin:-0.243,yMax:1.576,yTicks:yTicksD,nar:false,tickSize:23,tickPad:0,ball:BALL_CD};

const panelsA=[
 {bt:tFine,bv:a1Black,mt:tMid,mv:a1Mid,rt:tFine,rv:a1Red},{bt:tFine,bv:a2Black,mt:tMid,mv:a2Mid,rt:tRed,rv:a2Red},
 {bt:tFine,bv:a3Black,mt:tMid,mv:a3Mid,rt:tRed,rv:a3Red},{bt:tFine,bv:a4Black,mt:tMid,mv:a4Mid,rt:tRed,rv:a4Red},
 {bt:tFine,bv:a5Black,mt:tMid,mv:a5Mid,rt:tRed,rv:a5Red},{bt:tHalf.slice(0,101),bv:a6Black,rt:tFine.slice(0,51),rv:a6Red}];
panelsA.forEach((p,i)=>{p.sh=shadeA[i];p.xmax=xMaxA[i];makePanel(rowA,i,p);});
const panelsB=[
 {bt:tFine,bv:b1Black,mt:tMid,mv:b1Mid,rt:tRed,rv:b1Red},{bt:tFine,bv:b2Black,mt:tMid,mv:b2Mid,rt:tRed,rv:b2Red},
 {bt:tFine,bv:b3Black,mt:tMid,mv:b3Mid,rt:tRed,rv:b3Red},{bt:tFine,bv:b4Black,mt:tMid,mv:b4Mid,rt:tRed,rv:b4Red},
 {bt:tFine,bv:b5Black,mt:tMid,mv:b5Mid,rt:tRed,rv:b5Red},{bt:tHalf,bv:b6Black,rt:tFine,rv:b6Red}];
panelsB.forEach((p,i)=>{p.sh=shadeB[i];p.xmax=0.06;makePanel(rowB,i,p);});
const panelsC=[
 {bt:tFine,bv:c1Black,mt:tMid,mv:c1Mid,rt:tRed,rv:c1Red},{bt:tFine,bv:c2Black,mt:tMid,mv:c2Mid,rt:tRed,rv:c2Red},
 {bt:tFine,bv:c3Black,mt:tMid,mv:c3Mid,rt:tRed,rv:c3Red},{bt:tFine,bv:c4Black,mt:tMid,mv:c4Mid,rt:tRed,rv:c4Red},
 {bt:tFine,bv:c5Black,mt:tMid,mv:c5Mid,rt:tRed,rv:c5Red}];
panelsC.forEach((p,i)=>{p.sh=shadeC[i];p.xmax=0.06;makePanel(rowC,i,p);});
const panelsD=[
 {bt:tFine,bv:d1Black,mt:tMid,mv:d1Mid,rt:tRed,rv:d1Red},{bt:tFine,bv:d2Black,mt:tMid,mv:d2Mid,rt:tRed,rv:d2Red},
 {bt:tFine,bv:d3Black,mt:tMid,mv:d3Mid,rt:tRed,rv:d3Red},{bt:tFine,bv:d4Black,mt:tMid,mv:d4Mid,rt:tRed,rv:d4Red},
 {bt:tFine,bv:d5Black,mt:tMid,mv:d5Mid,rt:tRed,rv:d5Red}];
panelsD.forEach((p,i)=>{p.sh=shadeD[i];p.xmax=0.06;makePanel(rowD,i,p);});

// ---------------- annotation layout (page positions) ----------------
const posA={wl:[[120.7,33.3],[246.4,33.3],[424,33.3],[598.6,33],[775.4,33],[949,29.5]],
 tau:[[117.9,60.7],[244.6,61],[426.8,59],[602,60],[775.4,61],[949.5,57]],
 eq:[[148.2,61.2],[275,61.5],[457,59.3],[631.4,60],[805.7,61],[980,57]],
 p90:[[71.4,98.3],[263.6,103.3],[430.4,101.7],[608.2,103],[805.7,103],[947.5,102.5]],
 p10:[[161.8,206],[362.5,206],[524.3,206],[683.2,210],[867.9,207],[1032,208]]};
const posB={wl:[[140,371.7],[254.3,370],[427.9,370],[604.6,366],[774.3,366.7],[1010,370.5]],
 tau:[[125,399],[254.3,392],[427.9,392],[604.6,390],[774.3,393],[1012,395]],
 eq:[[166,400],[295.7,392],[468.6,392],[645.7,390],[815.4,393],[1053.5,395]],
 p90:[[175.7,445],[374.3,445],[551.8,445],[704.6,442],[864.3,445],[1048,445]],
 p10:[[106,538.3],[287.5,540],[458.2,541.7],[606.4,542.7],[792.9,540.7],[966,539]]};
const posC={wl:[[130.4,697],[283.9,697],[497.1,697],[701.1,697],[907.1,697]],
 tau:[[123.3,716.5],[285.7,716.5],[501.8,716.5],[706.4,715.5],[911.8,716.5]],
 eq:[[165,716.5],[326.8,716.5],[544,716.5],[747.5,715.5],[951.8,716.5]],
 p90:[[76.8,756.7],[282.9,754],[492.9,755],[699.3,745],[903.6,748]],
 p10:[[185.7,880],[394.6,883],[602.9,883],[808.2,883],[1010.7,883]]};
const posD={wl:[[128.3,1031.7],[323.2,1030],[525.7,1030],[752.9,1030.7],[959.3,1033]],
 tau:[[116.7,1058],[317.9,1053],[528.6,1050],[749.3,1055],[959.3,1053]],
 eq:[[171.7,1058.3],[373.2,1053],[583.2,1050],[806.4,1053],[1013.6,1053]],
 p90:[[148.3,1090],[395.7,1085],[561.8,1085],[831.4,1082.7],[1004.6,1086.7]],
 p10:[[76.8,1212.7],[294.6,1215],[511.4,1206.7],[742.9,1208],[947.5,1209]]};

function annotate(pos,wl,eq,sub,nar,size,pctSize,subSize,subDy){
  wl.forEach((s,i)=>{
    addText(s,pos.wl[i][0],pos.wl[i][1],size,nar,false);
    addTau(pos.tau[i][0],pos.tau[i][1],size,sub,subSize,subDy,nar);
    addText(eq[i],pos.eq[i][0],pos.eq[i][1],size,nar,false);
    addText('90%',pos.p90[i][0],pos.p90[i][1],pctSize,nar,false);
    addText('10%',pos.p10[i][0],pos.p10[i][1],pctSize,nar,false);
  });
}
annotate(posA,wlA,eqA,'rise',true,21,21,13,6);
annotate(posB,wlB,eqB,'decay',true,21,21,13,6);
annotate(posC,wlC,eqC,'rise',false,23,24,15,7);
annotate(posD,wlD,eqD,'decay',false,23,24,15,7);

addText('(a)',69.6,43,34,true,false);
addText('(b)',74.3,377,32,true,false);
addText('(c)',67,700,36,false,false);
addText('(d)',66.7,1042.5,36,false,false);

addVert('Voltage (V)',35,127.5,31);
addVert('Voltage (V)',35.7,451.7,31);
addVert('Voltage (V)',26.8,787.5,31);
addVert('Voltage (V)',26,1130,31);
addText('Time (s)',594,281.7,37,true,true);
addText('Time (s)',594,606,31,true,true);
addText('Time (s)',572,947,35,false,true);
addText('Time (s)',586.6,1280,35,false,true);
</script></body></html>
